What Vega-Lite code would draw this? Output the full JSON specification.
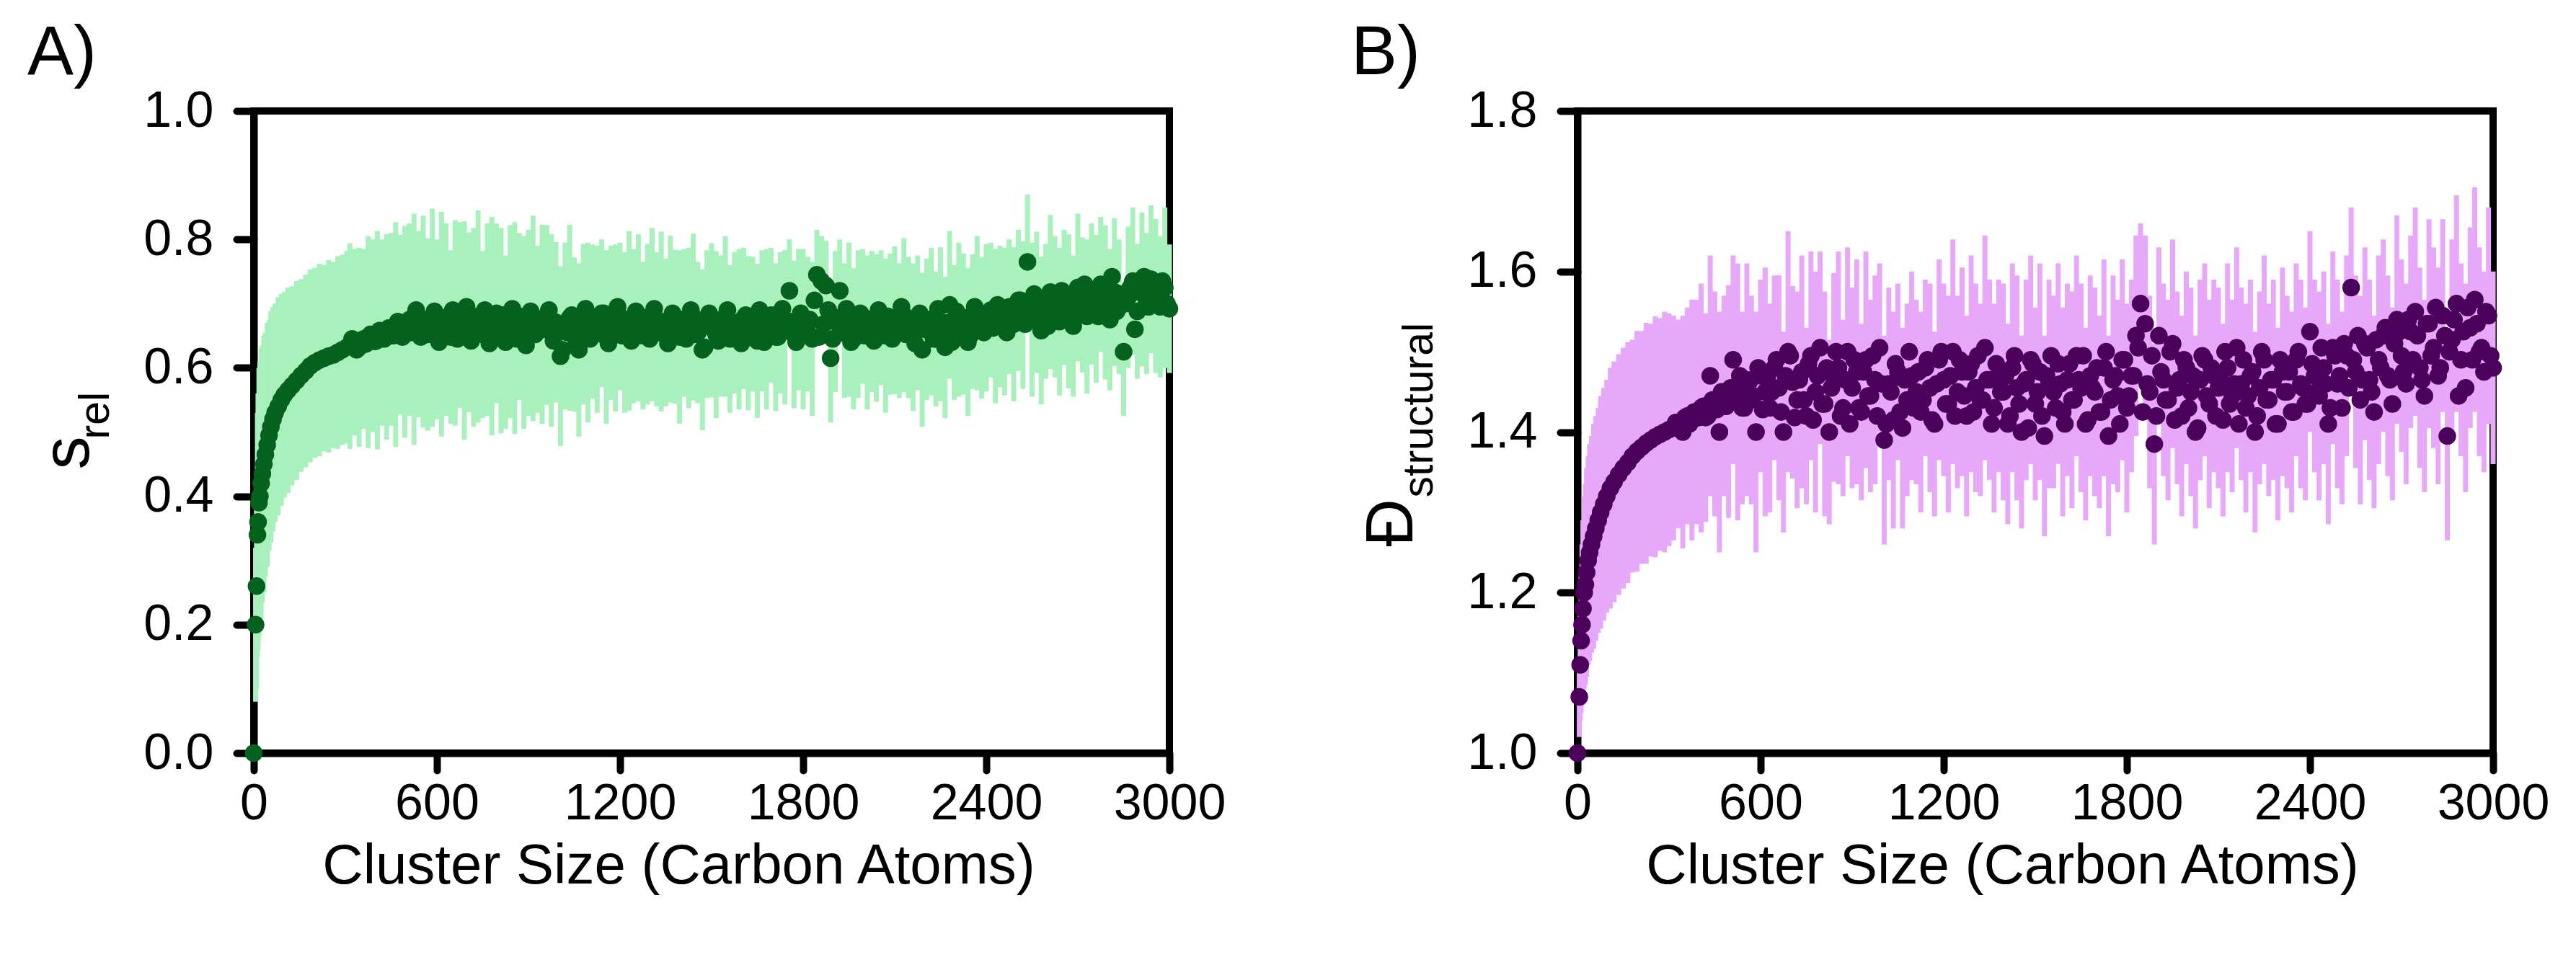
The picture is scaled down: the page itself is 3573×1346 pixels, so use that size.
{
"$schema": "https://vega.github.io/schema/vega-lite/v6.json",
"background": "white",
"padding": {"left": 33, "top": 21, "right": 10, "bottom": 5},
"config": {
  "font": "Liberation Sans",
  "view": {"stroke": "black", "strokeWidth": 10},
  "axis": {"domainColor": "black", "domainWidth": 10, "tickColor": "black", "tickWidth": 10, "tickSize": 24, "tickCap": "round", "labelFontSize": 70, "labelColor": "black", "labelFont": "Liberation Sans", "titleFont": "Liberation Sans", "titleFontWeight": "normal", "titleColor": "black", "grid": false, "labelFlush": false, "labelOverlap": false},
  "title": {"font": "Liberation Sans", "fontWeight": "normal", "color": "black", "fontSize": 96}
},
"datasets": {
"A": [
{"x":0,"y":0,"e":0.003},{"x":6,"y":0.2,"e":0.12},{"x":9,"y":0.26,"e":0.16},{"x":12,"y":0.34,"e":0.19},{"x":14,"y":0.36,"e":0.2},{"x":17,"y":0.39,"e":0.21},{"x":20,"y":0.4,"e":0.21},{"x":24,"y":0.42,"e":0.21},{"x":28,"y":0.435,"e":0.2},{"x":33,"y":0.45,"e":0.2},{"x":38,"y":0.465,"e":0.19},{"x":44,"y":0.48,"e":0.19},{"x":50,"y":0.495,"e":0.18},{"x":56,"y":0.508,"e":0.18},{"x":63,"y":0.52,"e":0.175},{"x":70,"y":0.53,"e":0.17},{"x":80,"y":0.54,"e":0.17},{"x":90,"y":0.55,"e":0.165},{"x":100,"y":0.558,"e":0.16},{"x":112,"y":0.565,"e":0.16},{"x":125,"y":0.572,"e":0.155},{"x":140,"y":0.58,"e":0.155},{"x":155,"y":0.588,"e":0.15},{"x":170,"y":0.595,"e":0.15},{"x":185,"y":0.603,"e":0.15},{"x":200,"y":0.608,"e":0.148},{"x":215,"y":0.612,"e":0.15},{"x":230,"y":0.615,"e":0.145},{"x":245,"y":0.618,"e":0.15},{"x":260,"y":0.62,"e":0.145},{"x":275,"y":0.624,"e":0.15},{"x":290,"y":0.628,"e":0.148},{"x":305,"y":0.632,"e":0.15},
{"x":315,"y":0.634,"e":0.16},{"x":330,"y":0.64,"e":0.145},{"x":345,"y":0.632,"e":0.155},{"x":360,"y":0.645,"e":0.14},{"x":375,"y":0.64,"e":0.165},{"x":390,"y":0.65,"e":0.15},{"x":405,"y":0.643,"e":0.17},{"x":420,"y":0.655,"e":0.145},{"x":435,"y":0.648,"e":0.16},{"x":450,"y":0.66,"e":0.15},
{"x":465,"y":0.652,"e":0.175},{"x":480,"y":0.667,"e":0.14},{"x":495,"y":0.656,"e":0.165},{"x":510,"y":0.675,"e":0.15},{"x":525,"y":0.66,"e":0.18},{"x":540,"y":0.668,"e":0.145},{"x":555,"y":0.672,"e":0.165},{"x":570,"y":0.652,"e":0.15},{"x":585,"y":0.678,"e":0.17},{"x":600,"y":0.66,"e":0.14},
{"x":615,"y":0.668,"e":0.175},{"x":630,"y":0.675,"e":0.15},{"x":645,"y":0.648,"e":0.135},{"x":660,"y":0.67,"e":0.16},{"x":675,"y":0.682,"e":0.145},{"x":690,"y":0.658,"e":0.17},{"x":705,"y":0.671,"e":0.14},{"x":720,"y":0.663,"e":0.155},{"x":735,"y":0.68,"e":0.165},{"x":750,"y":0.652,"e":0.13},
{"x":765,"y":0.675,"e":0.15},{"x":780,"y":0.665,"e":0.17},{"x":795,"y":0.685,"e":0.14},{"x":810,"y":0.658,"e":0.16},{"x":825,"y":0.64,"e":0.135},{"x":840,"y":0.672,"e":0.15},{"x":855,"y":0.662,"e":0.165},{"x":870,"y":0.68,"e":0.13},{"x":885,"y":0.655,"e":0.15},{"x":900,"y":0.67,"e":0.145},
{"x":915,"y":0.677,"e":0.16},{"x":930,"y":0.66,"e":0.13},{"x":945,"y":0.668,"e":0.155},{"x":960,"y":0.682,"e":0.14},{"x":975,"y":0.658,"e":0.15},{"x":990,"y":0.671,"e":0.125},{"x":1005,"y":0.618,"e":0.14},{"x":1020,"y":0.665,"e":0.13},{"x":1035,"y":0.678,"e":0.145},{"x":1050,"y":0.652,"e":0.12},
{"x":1065,"y":0.628,"e":0.135},{"x":1080,"y":0.668,"e":0.125},{"x":1095,"y":0.655,"e":0.14},{"x":1110,"y":0.672,"e":0.12},{"x":1125,"y":0.66,"e":0.13},{"x":1140,"y":0.685,"e":0.115},{"x":1155,"y":0.648,"e":0.135},{"x":1170,"y":0.67,"e":0.12},{"x":1185,"y":0.662,"e":0.13},{"x":1200,"y":0.68,"e":0.115},
{"x":1215,"y":0.655,"e":0.125},{"x":1230,"y":0.673,"e":0.14},{"x":1245,"y":0.665,"e":0.12},{"x":1260,"y":0.678,"e":0.13},{"x":1275,"y":0.65,"e":0.115},{"x":1290,"y":0.668,"e":0.125},{"x":1305,"y":0.683,"e":0.135},{"x":1320,"y":0.66,"e":0.12},{"x":1335,"y":0.672,"e":0.14},{"x":1350,"y":0.655,"e":0.115},
{"x":1365,"y":0.676,"e":0.13},{"x":1380,"y":0.664,"e":0.12},{"x":1395,"y":0.648,"e":0.135},{"x":1410,"y":0.67,"e":0.115},{"x":1425,"y":0.662,"e":0.125},{"x":1440,"y":0.679,"e":0.13},{"x":1455,"y":0.655,"e":0.11},{"x":1470,"y":0.628,"e":0.125},{"x":1485,"y":0.668,"e":0.115},{"x":1500,"y":0.674,"e":0.12},
{"x":1515,"y":0.652,"e":0.13},{"x":1530,"y":0.665,"e":0.11},{"x":1545,"y":0.68,"e":0.125},{"x":1560,"y":0.645,"e":0.115},{"x":1575,"y":0.67,"e":0.11},{"x":1590,"y":0.66,"e":0.125},{"x":1605,"y":0.677,"e":0.11},{"x":1620,"y":0.654,"e":0.12},{"x":1635,"y":0.668,"e":0.105},{"x":1650,"y":0.642,"e":0.12},
{"x":1665,"y":0.673,"e":0.11},{"x":1680,"y":0.66,"e":0.125},{"x":1695,"y":0.682,"e":0.105},{"x":1710,"y":0.648,"e":0.115},{"x":1725,"y":0.67,"e":0.11},{"x":1740,"y":0.663,"e":0.12},{"x":1755,"y":0.72,"e":0.08},{"x":1770,"y":0.652,"e":0.115},{"x":1785,"y":0.675,"e":0.11},{"x":1800,"y":0.66,"e":0.125},
{"x":1815,"y":0.668,"e":0.105},{"x":1830,"y":0.645,"e":0.12},{"x":1845,"y":0.745,"e":0.07},{"x":1860,"y":0.735,"e":0.07},{"x":1875,"y":0.728,"e":0.07},{"x":1890,"y":0.615,"e":0.1},{"x":1905,"y":0.672,"e":0.11},{"x":1920,"y":0.72,"e":0.08},{"x":1935,"y":0.658,"e":0.105},{"x":1950,"y":0.675,"e":0.12},
{"x":1965,"y":0.645,"e":0.11},{"x":1980,"y":0.668,"e":0.115},{"x":1995,"y":0.68,"e":0.105},{"x":2010,"y":0.655,"e":0.12},{"x":2025,"y":0.672,"e":0.11},{"x":2040,"y":0.662,"e":0.115},{"x":2055,"y":0.678,"e":0.105},{"x":2070,"y":0.65,"e":0.12},{"x":2085,"y":0.668,"e":0.11},{"x":2100,"y":0.674,"e":0.115},
{"x":2115,"y":0.658,"e":0.105},{"x":2130,"y":0.682,"e":0.12},{"x":2145,"y":0.663,"e":0.11},{"x":2160,"y":0.648,"e":0.115},{"x":2175,"y":0.67,"e":0.105},{"x":2190,"y":0.628,"e":0.12},{"x":2205,"y":0.66,"e":0.11},{"x":2220,"y":0.672,"e":0.115},{"x":2235,"y":0.645,"e":0.105},{"x":2250,"y":0.668,"e":0.12},
{"x":2265,"y":0.632,"e":0.11},{"x":2280,"y":0.698,"e":0.115},{"x":2295,"y":0.655,"e":0.105},{"x":2310,"y":0.675,"e":0.12},{"x":2325,"y":0.668,"e":0.11},{"x":2340,"y":0.64,"e":0.115},{"x":2355,"y":0.672,"e":0.105},{"x":2370,"y":0.685,"e":0.12},{"x":2385,"y":0.662,"e":0.11},{"x":2400,"y":0.678,"e":0.115},
{"x":2415,"y":0.69,"e":0.105},{"x":2430,"y":0.665,"e":0.12},{"x":2445,"y":0.68,"e":0.11},{"x":2460,"y":0.672,"e":0.115},{"x":2475,"y":0.695,"e":0.105},{"x":2490,"y":0.668,"e":0.12},{"x":2505,"y":0.705,"e":0.11},{"x":2520,"y":0.682,"e":0.115},{"x":2535,"y":0.765,"e":0.105},{"x":2550,"y":0.675,"e":0.12},
{"x":2565,"y":0.702,"e":0.11},{"x":2580,"y":0.658,"e":0.115},{"x":2595,"y":0.688,"e":0.105},{"x":2610,"y":0.718,"e":0.12},{"x":2625,"y":0.695,"e":0.11},{"x":2640,"y":0.672,"e":0.115},{"x":2655,"y":0.71,"e":0.105},{"x":2670,"y":0.688,"e":0.12},{"x":2685,"y":0.665,"e":0.11},{"x":2700,"y":0.725,"e":0.115},
{"x":2715,"y":0.698,"e":0.105},{"x":2730,"y":0.68,"e":0.12},{"x":2745,"y":0.715,"e":0.11},{"x":2760,"y":0.692,"e":0.115},{"x":2775,"y":0.73,"e":0.105},{"x":2790,"y":0.702,"e":0.12},{"x":2805,"y":0.675,"e":0.11},{"x":2820,"y":0.718,"e":0.115},{"x":2835,"y":0.695,"e":0.105},{"x":2850,"y":0.625,"e":0.1},
{"x":2865,"y":0.71,"e":0.11},{"x":2880,"y":0.735,"e":0.115},{"x":2895,"y":0.688,"e":0.105},{"x":2910,"y":0.722,"e":0.12},{"x":2925,"y":0.7,"e":0.11},{"x":2940,"y":0.738,"e":0.115},{"x":2955,"y":0.712,"e":0.12},{"x":2970,"y":0.695,"e":0.11},{"x":2985,"y":0.725,"e":0.125},{"x":3000,"y":0.692,"e":0.1}
],
"A2": [
{"x":322,"y":0.645},{"x":337,"y":0.628},{"x":352,"y":0.642},{"x":367,"y":0.637},{"x":382,"y":0.652},{"x":397,"y":0.641},{"x":412,"y":0.658},{"x":427,"y":0.645},{"x":442,"y":0.662},{"x":457,"y":0.65},
{"x":472,"y":0.672},{"x":487,"y":0.648},{"x":502,"y":0.668},{"x":517,"y":0.655},{"x":532,"y":0.69},{"x":547,"y":0.648},{"x":562,"y":0.675},{"x":577,"y":0.66},{"x":592,"y":0.688},{"x":607,"y":0.64},
{"x":622,"y":0.678},{"x":637,"y":0.655},{"x":652,"y":0.69},{"x":667,"y":0.645},{"x":682,"y":0.668},{"x":697,"y":0.695},{"x":712,"y":0.642},{"x":727,"y":0.672},{"x":742,"y":0.66},{"x":757,"y":0.69},
{"x":772,"y":0.638},{"x":787,"y":0.675},{"x":802,"y":0.652},{"x":817,"y":0.682},{"x":832,"y":0.665},{"x":847,"y":0.692},{"x":862,"y":0.645},{"x":877,"y":0.67},{"x":892,"y":0.635},{"x":907,"y":0.688},
{"x":922,"y":0.652},{"x":937,"y":0.675},{"x":952,"y":0.66},{"x":967,"y":0.69},{"x":982,"y":0.642},{"x":997,"y":0.668},{"x":1012,"y":0.628},{"x":1027,"y":0.655},{"x":1042,"y":0.682},{"x":1057,"y":0.64},
{"x":1072,"y":0.67},{"x":1087,"y":0.692},{"x":1102,"y":0.645},{"x":1117,"y":0.675},{"x":1132,"y":0.655},{"x":1147,"y":0.685},{"x":1162,"y":0.638},{"x":1177,"y":0.668},{"x":1192,"y":0.695},{"x":1207,"y":0.65},
{"x":1222,"y":0.672},{"x":1237,"y":0.642},{"x":1252,"y":0.688},{"x":1267,"y":0.66},{"x":1282,"y":0.678},{"x":1297,"y":0.645},{"x":1312,"y":0.692},{"x":1327,"y":0.655},{"x":1342,"y":0.67},{"x":1357,"y":0.638},
{"x":1372,"y":0.685},{"x":1387,"y":0.66},{"x":1402,"y":0.675},{"x":1417,"y":0.645},{"x":1432,"y":0.69},{"x":1447,"y":0.652},{"x":1462,"y":0.668},{"x":1477,"y":0.632},{"x":1492,"y":0.685},{"x":1507,"y":0.66},
{"x":1522,"y":0.642},{"x":1537,"y":0.675},{"x":1552,"y":0.69},{"x":1567,"y":0.65},{"x":1582,"y":0.668},{"x":1597,"y":0.638},{"x":1612,"y":0.682},{"x":1627,"y":0.655},{"x":1642,"y":0.67},{"x":1657,"y":0.69},
{"x":1672,"y":0.64},{"x":1687,"y":0.665},{"x":1702,"y":0.68},{"x":1717,"y":0.648},{"x":1732,"y":0.692},{"x":1747,"y":0.658},{"x":1762,"y":0.672},{"x":1777,"y":0.64},{"x":1792,"y":0.685},{"x":1807,"y":0.66},
{"x":1822,"y":0.675},{"x":1837,"y":0.705},{"x":1852,"y":0.648},{"x":1867,"y":0.668},{"x":1882,"y":0.69},{"x":1897,"y":0.645},{"x":1912,"y":0.678},{"x":1927,"y":0.655},{"x":1942,"y":0.692},{"x":1957,"y":0.64},
{"x":1972,"y":0.67},{"x":1987,"y":0.685},{"x":2002,"y":0.65},{"x":2017,"y":0.675},{"x":2032,"y":0.642},{"x":2047,"y":0.69},{"x":2062,"y":0.66},{"x":2077,"y":0.68},{"x":2092,"y":0.645},{"x":2107,"y":0.672},
{"x":2122,"y":0.695},{"x":2137,"y":0.652},{"x":2152,"y":0.668},{"x":2167,"y":0.638},{"x":2182,"y":0.685},{"x":2197,"y":0.66},{"x":2212,"y":0.675},{"x":2227,"y":0.645},{"x":2242,"y":0.692},{"x":2257,"y":0.655},
{"x":2272,"y":0.67},{"x":2287,"y":0.64},{"x":2302,"y":0.688},{"x":2317,"y":0.662},{"x":2332,"y":0.678},{"x":2347,"y":0.65},{"x":2362,"y":0.695},{"x":2377,"y":0.668},{"x":2392,"y":0.655},{"x":2407,"y":0.685},
{"x":2422,"y":0.662},{"x":2437,"y":0.698},{"x":2452,"y":0.67},{"x":2467,"y":0.655},{"x":2482,"y":0.69},{"x":2497,"y":0.675},{"x":2512,"y":0.705},{"x":2527,"y":0.668},{"x":2542,"y":0.69},{"x":2557,"y":0.715},
{"x":2572,"y":0.678},{"x":2587,"y":0.7},{"x":2602,"y":0.665},{"x":2617,"y":0.705},{"x":2632,"y":0.688},{"x":2647,"y":0.72},{"x":2662,"y":0.675},{"x":2677,"y":0.7},{"x":2692,"y":0.712},{"x":2707,"y":0.685},
{"x":2722,"y":0.73},{"x":2737,"y":0.695},{"x":2752,"y":0.71},{"x":2767,"y":0.68},{"x":2782,"y":0.725},{"x":2797,"y":0.698},{"x":2812,"y":0.742},{"x":2827,"y":0.688},{"x":2842,"y":0.715},{"x":2857,"y":0.7},
{"x":2872,"y":0.725},{"x":2887,"y":0.66},{"x":2902,"y":0.718},{"x":2917,"y":0.742},{"x":2932,"y":0.695},{"x":2947,"y":0.728},{"x":2962,"y":0.705},{"x":2977,"y":0.735},{"x":2992,"y":0.7}
],
"B": [
{"x":0,"y":1.0,"e":0.003},{"x":6,"y":1.07,"e":0.05},{"x":9,"y":1.11,"e":0.07},{"x":12,"y":1.14,"e":0.09},{"x":15,"y":1.16,"e":0.1},{"x":18,"y":1.18,"e":0.11},{"x":22,"y":1.2,"e":0.12},{"x":26,"y":1.21,"e":0.125},{"x":30,"y":1.225,"e":0.13},{"x":35,"y":1.24,"e":0.13},{"x":40,"y":1.25,"e":0.135},{"x":46,"y":1.26,"e":0.135},{"x":53,"y":1.27,"e":0.14},{"x":60,"y":1.28,"e":0.14},{"x":68,"y":1.29,"e":0.14},{"x":76,"y":1.3,"e":0.145},{"x":86,"y":1.31,"e":0.145},{"x":96,"y":1.32,"e":0.145},{"x":108,"y":1.33,"e":0.15},{"x":120,"y":1.338,"e":0.15},{"x":135,"y":1.347,"e":0.15},{"x":150,"y":1.355,"e":0.15},{"x":165,"y":1.362,"e":0.15},{"x":180,"y":1.37,"e":0.145},{"x":195,"y":1.376,"e":0.15},{"x":210,"y":1.381,"e":0.145},{"x":225,"y":1.386,"e":0.15},{"x":240,"y":1.39,"e":0.145},{"x":255,"y":1.394,"e":0.15},{"x":270,"y":1.397,"e":0.145},{"x":285,"y":1.4,"e":0.15},{"x":300,"y":1.403,"e":0.145},
{"x":315,"y":1.405,"e":0.14},{"x":330,"y":1.41,"e":0.13},{"x":345,"y":1.4,"e":0.145},{"x":360,"y":1.42,"e":0.135},{"x":375,"y":1.415,"e":0.15},{"x":390,"y":1.425,"e":0.14},{"x":405,"y":1.43,"e":0.155},{"x":420,"y":1.418,"e":0.13},{"x":435,"y":1.47,"e":0.15},{"x":450,"y":1.435,"e":0.14},
{"x":465,"y":1.4,"e":0.15},{"x":480,"y":1.445,"e":0.125},{"x":495,"y":1.438,"e":0.145},{"x":510,"y":1.49,"e":0.13},{"x":525,"y":1.45,"e":0.16},{"x":540,"y":1.43,"e":0.12},{"x":555,"y":1.465,"e":0.145},{"x":570,"y":1.44,"e":0.13},{"x":585,"y":1.4,"e":0.15},{"x":600,"y":1.47,"e":0.12},
{"x":615,"y":1.45,"e":0.155},{"x":630,"y":1.43,"e":0.13},{"x":645,"y":1.48,"e":0.115},{"x":660,"y":1.455,"e":0.14},{"x":675,"y":1.4,"e":0.125},{"x":690,"y":1.5,"e":0.15},{"x":705,"y":1.462,"e":0.12},{"x":720,"y":1.44,"e":0.135},{"x":735,"y":1.475,"e":0.145},{"x":750,"y":1.42,"e":0.11},
{"x":765,"y":1.495,"e":0.13},{"x":780,"y":1.45,"e":0.15},{"x":795,"y":1.505,"e":0.12},{"x":810,"y":1.435,"e":0.14},{"x":825,"y":1.4,"e":0.115},{"x":840,"y":1.468,"e":0.13},{"x":855,"y":1.48,"e":0.145},{"x":870,"y":1.43,"e":0.11},{"x":885,"y":1.5,"e":0.13},{"x":900,"y":1.455,"e":0.125},
{"x":915,"y":1.475,"e":0.14},{"x":930,"y":1.425,"e":0.11},{"x":945,"y":1.49,"e":0.135},{"x":960,"y":1.445,"e":0.12},{"x":975,"y":1.465,"e":0.13},{"x":990,"y":1.505,"e":0.105},{"x":1005,"y":1.39,"e":0.13},{"x":1020,"y":1.46,"e":0.12},{"x":1035,"y":1.415,"e":0.135},{"x":1050,"y":1.475,"e":0.11},
{"x":1065,"y":1.405,"e":0.125},{"x":1080,"y":1.44,"e":0.12},{"x":1095,"y":1.47,"e":0.13},{"x":1110,"y":1.45,"e":0.115},{"x":1125,"y":1.425,"e":0.125},{"x":1140,"y":1.48,"e":0.11},{"x":1155,"y":1.455,"e":0.13},{"x":1170,"y":1.41,"e":0.115},{"x":1185,"y":1.49,"e":0.125},{"x":1200,"y":1.465,"e":0.12},
{"x":1215,"y":1.435,"e":0.135},{"x":1230,"y":1.5,"e":0.14},{"x":1245,"y":1.45,"e":0.12},{"x":1260,"y":1.475,"e":0.13},{"x":1275,"y":1.42,"e":0.125},{"x":1290,"y":1.485,"e":0.135},{"x":1305,"y":1.455,"e":0.13},{"x":1320,"y":1.44,"e":0.12},{"x":1335,"y":1.505,"e":0.14},{"x":1350,"y":1.465,"e":0.125},
{"x":1365,"y":1.43,"e":0.13},{"x":1380,"y":1.47,"e":0.12},{"x":1395,"y":1.45,"e":0.135},{"x":1410,"y":1.41,"e":0.125},{"x":1425,"y":1.48,"e":0.13},{"x":1440,"y":1.455,"e":0.14},{"x":1455,"y":1.4,"e":0.12},{"x":1470,"y":1.465,"e":0.125},{"x":1485,"y":1.49,"e":0.13},{"x":1500,"y":1.435,"e":0.12},
{"x":1515,"y":1.475,"e":0.135},{"x":1530,"y":1.395,"e":0.125},{"x":1545,"y":1.46,"e":0.13},{"x":1560,"y":1.45,"e":0.12},{"x":1575,"y":1.485,"e":0.125},{"x":1590,"y":1.425,"e":0.13},{"x":1605,"y":1.465,"e":0.12},{"x":1620,"y":1.44,"e":0.135},{"x":1635,"y":1.495,"e":0.125},{"x":1650,"y":1.455,"e":0.13},
{"x":1665,"y":1.41,"e":0.12},{"x":1680,"y":1.47,"e":0.125},{"x":1695,"y":1.45,"e":0.13},{"x":1710,"y":1.425,"e":0.12},{"x":1725,"y":1.48,"e":0.135},{"x":1740,"y":1.395,"e":0.125},{"x":1755,"y":1.465,"e":0.13},{"x":1770,"y":1.445,"e":0.12},{"x":1785,"y":1.49,"e":0.125},{"x":1800,"y":1.43,"e":0.13},
{"x":1815,"y":1.47,"e":0.12},{"x":1830,"y":1.52,"e":0.125},{"x":1845,"y":1.56,"e":0.1},{"x":1860,"y":1.535,"e":0.11},{"x":1875,"y":1.45,"e":0.12},{"x":1890,"y":1.385,"e":0.125},{"x":1905,"y":1.52,"e":0.11},{"x":1920,"y":1.465,"e":0.12},{"x":1935,"y":1.44,"e":0.125},{"x":1950,"y":1.51,"e":0.13},
{"x":1965,"y":1.455,"e":0.12},{"x":1980,"y":1.42,"e":0.125},{"x":1995,"y":1.48,"e":0.12},{"x":2010,"y":1.45,"e":0.13},{"x":2025,"y":1.4,"e":0.12},{"x":2040,"y":1.465,"e":0.125},{"x":2055,"y":1.49,"e":0.12},{"x":2070,"y":1.435,"e":0.13},{"x":2085,"y":1.47,"e":0.12},{"x":2100,"y":1.455,"e":0.125},
{"x":2115,"y":1.415,"e":0.12},{"x":2130,"y":1.48,"e":0.13},{"x":2145,"y":1.445,"e":0.12},{"x":2160,"y":1.505,"e":0.125},{"x":2175,"y":1.46,"e":0.12},{"x":2190,"y":1.43,"e":0.13},{"x":2205,"y":1.47,"e":0.12},{"x":2220,"y":1.4,"e":0.125},{"x":2235,"y":1.455,"e":0.12},{"x":2250,"y":1.49,"e":0.13},
{"x":2265,"y":1.44,"e":0.12},{"x":2280,"y":1.465,"e":0.125},{"x":2295,"y":1.41,"e":0.12},{"x":2310,"y":1.475,"e":0.13},{"x":2325,"y":1.45,"e":0.12},{"x":2340,"y":1.425,"e":0.125},{"x":2355,"y":1.49,"e":0.12},{"x":2370,"y":1.46,"e":0.13},{"x":2385,"y":1.435,"e":0.12},{"x":2400,"y":1.525,"e":0.125},
{"x":2415,"y":1.47,"e":0.12},{"x":2430,"y":1.445,"e":0.13},{"x":2445,"y":1.48,"e":0.12},{"x":2460,"y":1.41,"e":0.125},{"x":2475,"y":1.505,"e":0.12},{"x":2490,"y":1.46,"e":0.13},{"x":2505,"y":1.43,"e":0.12},{"x":2520,"y":1.495,"e":0.125},{"x":2535,"y":1.58,"e":0.1},{"x":2550,"y":1.475,"e":0.12},
{"x":2565,"y":1.44,"e":0.13},{"x":2580,"y":1.51,"e":0.12},{"x":2595,"y":1.465,"e":0.125},{"x":2610,"y":1.425,"e":0.12},{"x":2625,"y":1.49,"e":0.13},{"x":2640,"y":1.52,"e":0.12},{"x":2655,"y":1.47,"e":0.125},{"x":2670,"y":1.435,"e":0.12},{"x":2685,"y":1.54,"e":0.13},{"x":2700,"y":1.495,"e":0.12},
{"x":2715,"y":1.46,"e":0.125},{"x":2730,"y":1.525,"e":0.12},{"x":2745,"y":1.55,"e":0.13},{"x":2760,"y":1.48,"e":0.125},{"x":2775,"y":1.445,"e":0.12},{"x":2790,"y":1.535,"e":0.13},{"x":2805,"y":1.505,"e":0.125},{"x":2820,"y":1.47,"e":0.135},{"x":2835,"y":1.545,"e":0.12},{"x":2850,"y":1.395,"e":0.13},
{"x":2865,"y":1.515,"e":0.125},{"x":2880,"y":1.56,"e":0.135},{"x":2895,"y":1.49,"e":0.12},{"x":2910,"y":1.455,"e":0.13},{"x":2925,"y":1.53,"e":0.125},{"x":2940,"y":1.565,"e":0.14},{"x":2955,"y":1.5,"e":0.13},{"x":2970,"y":1.475,"e":0.125},{"x":2985,"y":1.545,"e":0.135},{"x":3000,"y":1.48,"e":0.12}
],
"B2": [
{"x":322,"y":1.412},{"x":337,"y":1.405},{"x":352,"y":1.418},{"x":367,"y":1.41},{"x":382,"y":1.425},{"x":397,"y":1.418},{"x":412,"y":1.432},{"x":427,"y":1.42},{"x":442,"y":1.44},{"x":457,"y":1.428},
{"x":472,"y":1.45},{"x":487,"y":1.432},{"x":502,"y":1.455},{"x":517,"y":1.438},{"x":532,"y":1.47},{"x":547,"y":1.43},{"x":562,"y":1.462},{"x":577,"y":1.445},{"x":592,"y":1.48},{"x":607,"y":1.428},
{"x":622,"y":1.468},{"x":637,"y":1.45},{"x":652,"y":1.49},{"x":667,"y":1.425},{"x":682,"y":1.47},{"x":697,"y":1.495},{"x":712,"y":1.418},{"x":727,"y":1.465},{"x":742,"y":1.44},{"x":757,"y":1.485},
{"x":772,"y":1.415},{"x":787,"y":1.47},{"x":802,"y":1.435},{"x":817,"y":1.48},{"x":832,"y":1.455},{"x":847,"y":1.5},{"x":862,"y":1.42},{"x":877,"y":1.465},{"x":892,"y":1.41},{"x":907,"y":1.49},
{"x":922,"y":1.43},{"x":937,"y":1.475},{"x":952,"y":1.445},{"x":967,"y":1.495},{"x":982,"y":1.42},{"x":997,"y":1.46},{"x":1012,"y":1.41},{"x":1027,"y":1.45},{"x":1042,"y":1.485},{"x":1057,"y":1.425},
{"x":1072,"y":1.465},{"x":1087,"y":1.5},{"x":1102,"y":1.43},{"x":1117,"y":1.475},{"x":1132,"y":1.44},{"x":1147,"y":1.49},{"x":1162,"y":1.415},{"x":1177,"y":1.46},{"x":1192,"y":1.5},{"x":1207,"y":1.435},
{"x":1222,"y":1.47},{"x":1237,"y":1.42},{"x":1252,"y":1.49},{"x":1267,"y":1.445},{"x":1282,"y":1.475},{"x":1297,"y":1.425},{"x":1312,"y":1.495},{"x":1327,"y":1.44},{"x":1342,"y":1.465},{"x":1357,"y":1.41},
{"x":1372,"y":1.485},{"x":1387,"y":1.45},{"x":1402,"y":1.47},{"x":1417,"y":1.42},{"x":1432,"y":1.495},{"x":1447,"y":1.435},{"x":1462,"y":1.46},{"x":1477,"y":1.405},{"x":1492,"y":1.485},{"x":1507,"y":1.45},
{"x":1522,"y":1.42},{"x":1537,"y":1.47},{"x":1552,"y":1.495},{"x":1567,"y":1.43},{"x":1582,"y":1.46},{"x":1597,"y":1.41},{"x":1612,"y":1.485},{"x":1627,"y":1.44},{"x":1642,"y":1.465},{"x":1657,"y":1.495},
{"x":1672,"y":1.415},{"x":1687,"y":1.455},{"x":1702,"y":1.48},{"x":1717,"y":1.425},{"x":1732,"y":1.5},{"x":1747,"y":1.44},{"x":1762,"y":1.47},{"x":1777,"y":1.41},{"x":1792,"y":1.49},{"x":1807,"y":1.445},
{"x":1822,"y":1.47},{"x":1837,"y":1.505},{"x":1852,"y":1.425},{"x":1867,"y":1.46},{"x":1882,"y":1.495},{"x":1897,"y":1.42},{"x":1912,"y":1.475},{"x":1927,"y":1.44},{"x":1942,"y":1.5},{"x":1957,"y":1.415},
{"x":1972,"y":1.465},{"x":1987,"y":1.49},{"x":2002,"y":1.43},{"x":2017,"y":1.47},{"x":2032,"y":1.405},{"x":2047,"y":1.495},{"x":2062,"y":1.445},{"x":2077,"y":1.48},{"x":2092,"y":1.42},{"x":2107,"y":1.465},
{"x":2122,"y":1.5},{"x":2137,"y":1.435},{"x":2152,"y":1.46},{"x":2167,"y":1.41},{"x":2182,"y":1.49},{"x":2197,"y":1.445},{"x":2212,"y":1.475},{"x":2227,"y":1.42},{"x":2242,"y":1.5},{"x":2257,"y":1.44},
{"x":2272,"y":1.465},{"x":2287,"y":1.41},{"x":2302,"y":1.49},{"x":2317,"y":1.45},{"x":2332,"y":1.475},{"x":2347,"y":1.425},{"x":2362,"y":1.5},{"x":2377,"y":1.455},{"x":2392,"y":1.435},{"x":2407,"y":1.485},
{"x":2422,"y":1.45},{"x":2437,"y":1.505},{"x":2452,"y":1.46},{"x":2467,"y":1.43},{"x":2482,"y":1.495},{"x":2497,"y":1.47},{"x":2512,"y":1.51},{"x":2527,"y":1.455},{"x":2542,"y":1.49},{"x":2557,"y":1.52},
{"x":2572,"y":1.465},{"x":2587,"y":1.505},{"x":2602,"y":1.45},{"x":2617,"y":1.515},{"x":2632,"y":1.48},{"x":2647,"y":1.53},{"x":2662,"y":1.465},{"x":2677,"y":1.51},{"x":2692,"y":1.525},{"x":2707,"y":1.475},
{"x":2722,"y":1.54},{"x":2737,"y":1.49},{"x":2752,"y":1.52},{"x":2767,"y":1.465},{"x":2782,"y":1.535},{"x":2797,"y":1.495},{"x":2812,"y":1.555},{"x":2827,"y":1.48},{"x":2842,"y":1.52},{"x":2857,"y":1.5},
{"x":2872,"y":1.54},{"x":2887,"y":1.445},{"x":2902,"y":1.525},{"x":2917,"y":1.555},{"x":2932,"y":1.49},{"x":2947,"y":1.535},{"x":2962,"y":1.505},{"x":2977,"y":1.55},{"x":2992,"y":1.495}
]
},
"bounds": "flush",
"spacing": 566,
"hconcat": [
{
  "width": 1270, "height": 891,
  "data": {"name": "A"},
  "title": {"text": "A)", "anchor": "start", "frame": "group", "dx": -314, "offset": -80, "baseline": "alphabetic"},
  "encoding": {"x": {"field": "x", "type": "quantitative", "scale": {"domain": [0, 3000], "nice": false, "zero": false}, "axis": {"values": [0, 600, 1200, 1800, 2400, 3000], "format": "d", "title": "Cluster Size (Carbon Atoms)", "titleFontSize": 78, "titleX": 589, "titleY": 180, "titleAlign": "center", "titleBaseline": "alphabetic", "labelPadding": 12}}},
  "layer": [
    {"mark": {"type": "errorbar", "ticks": false, "thickness": 7, "color": "#a8f0bc"},
     "encoding": {"y": {"field": "y", "type": "quantitative", "scale": {"domain": [0, 1], "nice": false}, "axis": {"values": [0, 0.2, 0.4, 0.6, 0.8, 1], "format": ".1f", "title": "s", "titleFontSize": 92, "titleX": -230, "titleY": 497, "titleAngle": -90, "titleAlign": "left", "titleBaseline": "alphabetic", "labelPadding": 32}}, "yError": {"field": "e"}}},
    {"data": {"name": "A2"}, "mark": {"type": "circle", "size": 600, "color": "#04611e", "opacity": 1},
     "encoding": {"y": {"field": "y", "type": "quantitative", "axis": null}}},
    {"mark": {"type": "circle", "size": 600, "color": "#04611e", "opacity": 1},
     "encoding": {"y": {"field": "y", "type": "quantitative", "axis": {"orient": "left", "labels": false, "ticks": false, "domain": false, "title": "rel", "titleFontSize": 59, "titleX": -202, "titleY": 455, "titleAngle": -90, "titleAlign": "left", "titleBaseline": "alphabetic"}}}}
  ],
  "resolve": {"axis": {"y": "independent"}}
},
{
  "width": 1270, "height": 891,
  "data": {"name": "B"},
  "title": {"text": "B)", "anchor": "start", "frame": "group", "dx": -314, "offset": -80, "baseline": "alphabetic"},
  "encoding": {"x": {"field": "x", "type": "quantitative", "scale": {"domain": [0, 3000], "nice": false, "zero": false}, "axis": {"values": [0, 600, 1200, 1800, 2400, 3000], "format": "d", "title": "Cluster Size (Carbon Atoms)", "titleFontSize": 78, "titleX": 589, "titleY": 180, "titleAlign": "center", "titleBaseline": "alphabetic", "labelPadding": 12}}},
  "layer": [
    {"mark": {"type": "errorbar", "ticks": false, "thickness": 7, "color": "#e8a8fa"},
     "encoding": {"y": {"field": "y", "type": "quantitative", "scale": {"domain": [1, 1.8], "nice": false, "zero": false}, "axis": {"values": [1, 1.2, 1.4, 1.6, 1.8], "format": ".1f", "title": "Đ", "titleFontSize": 92, "titleX": -230, "titleY": 604, "titleAngle": -90, "titleAlign": "left", "titleBaseline": "alphabetic", "labelPadding": 32}}, "yError": {"field": "e"}}},
    {"data": {"name": "B2"}, "mark": {"type": "circle", "size": 600, "color": "#4b005c", "opacity": 1},
     "encoding": {"y": {"field": "y", "type": "quantitative", "axis": null}}},
    {"mark": {"type": "circle", "size": 600, "color": "#4b005c", "opacity": 1},
     "encoding": {"y": {"field": "y", "type": "quantitative", "axis": {"orient": "left", "labels": false, "ticks": false, "domain": false, "title": "structural", "titleFontSize": 59, "titleX": -202, "titleY": 536, "titleAngle": -90, "titleAlign": "left", "titleBaseline": "alphabetic"}}}}
  ],
  "resolve": {"axis": {"y": "independent"}}
}
]
}
